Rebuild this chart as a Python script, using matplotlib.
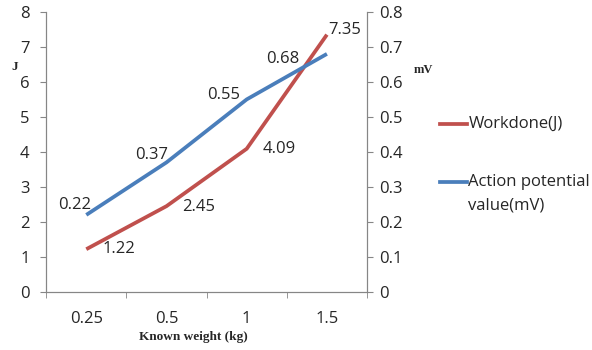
import numpy as np
import matplotlib.pyplot as plt

# datos del grafico
pesos = ["0.25", "0.5", "1", "1.5"]
trabajo_J = [1.22, 2.45, 4.09, 7.35]
potencial_mV = [0.22, 0.37, 0.55, 0.68]

# desplazamientos (px) de cada etiqueta respecto a su punto
desp_rojo = [(16, 0), (16, -1), (16, 0), (1, 5)]
desp_azul = [(5, 10), (2, 7), (-7, 4), (-28, -5)]

ROJO = "#C0504D"
AZUL = "#4A7EBB"
GRIS = "#868686"
TEXTO = "#262626"
TAM = 12

plt.rcParams["font.family"] = ["Open Sans", "DejaVu Sans"]

fig = plt.figure(figsize=(5.92, 3.5), dpi=100)
ax = fig.add_axes([0.078, 0.166, 0.542, 0.800])
ax2 = ax.twinx()

x = np.arange(len(pesos))
ax.plot(x, trabajo_J, color=ROJO, lw=2.7, solid_capstyle="butt")
ax2.plot(x, potencial_mV, color=AZUL, lw=2.7, solid_capstyle="butt")

ax.set_xlim(-0.5, len(pesos) - 0.5)
ax.set_ylim(0, 8)
ax2.set_ylim(0, 0.8)
ax.set_yticks(np.arange(0, 9, 1))
ax2.set_yticks(np.arange(0, 0.81, 0.1))
ax2.set_yticklabels(["0"] + [f"{v:.1f}" for v in np.arange(0.1, 0.81, 0.1)])

ax.set_xticks(x)
ax.set_xticklabels(pesos)
ax.set_xticks(np.arange(-0.5, len(pesos), 1), minor=True)
ax.tick_params(axis="x", which="major", length=0, pad=14, labelsize=TAM,
               labelcolor=TEXTO)
ax.tick_params(axis="x", which="minor", length=4, color=GRIS)

for a in (ax, ax2):
    for s in a.spines.values():
        s.set_color(GRIS)
    a.spines["top"].set_visible(False)
    a.tick_params(axis="y", length=4, color=GRIS, labelsize=TAM, labelcolor=TEXTO)
ax.tick_params(axis="y", pad=8)
ax2.tick_params(axis="y", pad=5)

# etiquetas de valores
to_px = 72 / fig.dpi
for xi, v, (dx, dy) in zip(x, trabajo_J, desp_rojo):
    ax.annotate(f"{v:.2f}", (xi, v), xytext=(dx * to_px, dy * to_px),
                textcoords="offset points", ha="left", va="center",
                fontsize=TAM, color=TEXTO)
for xi, v, (dx, dy) in zip(x, potencial_mV, desp_azul):
    ax2.annotate(f"{v:.2f}", (xi, v), xytext=(dx * to_px, dy * to_px),
                 textcoords="offset points", ha="right", va="center",
                 fontsize=TAM, color=TEXTO)

fig.text(0.025, 0.81, "J", fontsize=9.5, fontweight="bold", family="Liberation Serif",
         ha="center", va="center", color=TEXTO)
fig.text(0.716, 0.80, "mV", fontsize=9, fontweight="bold", family="Liberation Serif",
         ha="center", va="center", color=TEXTO)
fig.text(0.326, 0.037, "Known weight (kg)", fontsize=9.5, fontweight="bold",
         family="Liberation Serif", ha="center", va="center", color=TEXTO)

# leyenda a mano
fig.add_artist(plt.Line2D([0.743, 0.789], [0.646, 0.646], color=ROJO, lw=2.7,
                          transform=fig.transFigure))
fig.text(0.791, 0.646, "Workdone(J)", fontsize=TAM, va="center", ha="left",
         color=TEXTO)
fig.add_artist(plt.Line2D([0.743, 0.789], [0.480, 0.480], color=AZUL, lw=2.7,
                          transform=fig.transFigure))
fig.text(0.791, 0.480, "Action potential", fontsize=TAM, va="center", ha="left",
         color=TEXTO)
fig.text(0.791, 0.414, "value(mV)", fontsize=TAM, va="center", ha="left",
         color=TEXTO)

fig.savefig("out.png", dpi=100)
